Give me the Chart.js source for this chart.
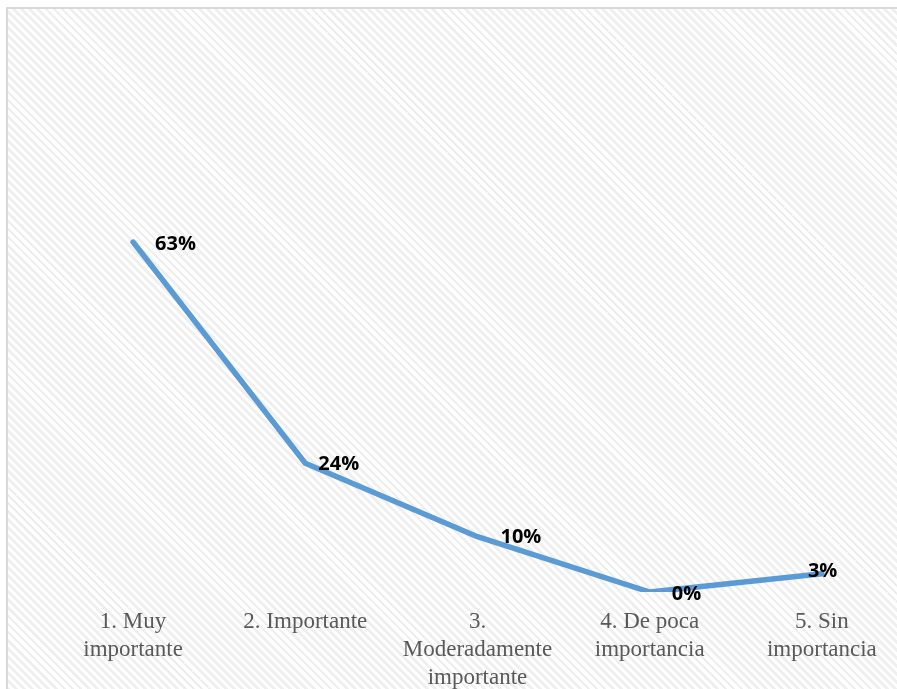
<!DOCTYPE html>
<html>
<head>
<meta charset="utf-8">
<script src="https://cdn.jsdelivr.net/npm/chart.js@4.4.1/dist/chart.umd.min.js"></script>
<style>
  html, body { margin: 0; padding: 0; width: 897px; height: 689px; overflow: hidden; background: #fff; }
  #frame {
    position: absolute; left: 6px; top: 7px; width: 1000px; height: 1000px;
    border: 2px solid #d9d9d9;
    background: repeating-linear-gradient(45deg, #ffffff 0px, #ffffff 3px, #efefef 3px, #efefef 5.7px);
  }
  #wrap { position: absolute; left: 0; top: 0; width: 920px; height: 710px; }
</style>
</head>
<body>
<div id="frame"></div>
<div id="wrap"><canvas id="chart"></canvas></div>
<script>
'use strict';

// ── Data ────────────────────────────────────────────────────────────────────
const categories = [
  ['1. Muy', 'importante'],
  ['2. Importante'],
  ['3.', 'Moderadamente', 'importante'],
  ['4. De poca', 'importancia'],
  ['5. Sin', 'importancia'],
];
const values      = [63.3, 23.3, 10.0, 0, 3.3];
const valueLabels = ['63%', '24%', '10%', '0%', '3%'];

// ── Style ───────────────────────────────────────────────────────────────────
const BLUE = '#5B9BD5';
const TICK = '#595959';
const LABEL_DX = [22, 13, 23, 22, -14];   // label nudges, px from the point
const LABEL_DY = [2, 1, 1, 2, -2];

// data labels drawn next to each point
const pointLabels = {
  id: 'pointLabels',
  afterDatasetsDraw(chart) {
    const { ctx } = chart;
    const meta = chart.getDatasetMeta(0);
    ctx.save();
    ctx.font = "bold 20px 'Open Sans', sans-serif";
    ctx.fillStyle = '#000';
    ctx.textAlign = 'left';
    ctx.textBaseline = 'middle';
    meta.data.forEach((pt, i) => {
      ctx.fillText(valueLabels[i], pt.x + LABEL_DX[i], pt.y + LABEL_DY[i]);
    });
    ctx.restore();
  },
};

new Chart(document.getElementById('chart'), {
  type: 'line',
  data: {
    labels: categories,
    datasets: [{
      data: values,
      borderColor: BLUE,
      borderWidth: 5.5,
      borderCapStyle: 'round',
      borderJoinStyle: 'round',
      pointRadius: 0,
      tension: 0,
      fill: false,
    }],
  },
  options: {
    responsive: true,
    maintainAspectRatio: false,
    animation: false,
    layout: { padding: { top: 205, left: 47, right: 12, bottom: 2 } },
    plugins: { legend: { display: false }, tooltip: { enabled: false } },
    scales: {
      x: {
        offset: true,
        grid: { display: false, drawTicks: false },
        border: { display: false },
        ticks: {
          color: TICK,
          padding: 16,
          maxRotation: 0,
          autoSkip: false,
          font: { family: "'Liberation Serif', serif", size: 23, lineHeight: 1.217 },
        },
      },
      y: { display: false, min: 0, max: 70 },
    },
  },
  plugins: [pointLabels],
});
</script>
</body>
</html>
